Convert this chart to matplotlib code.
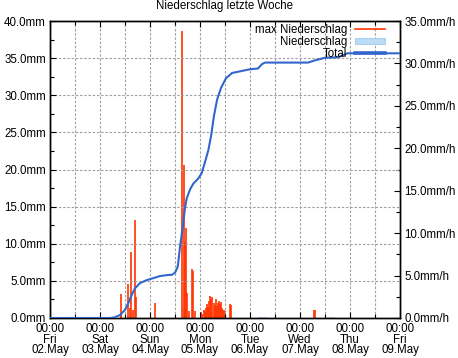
import matplotlib
matplotlib.use("Agg")
import matplotlib.pyplot as plt
from matplotlib.ticker import MultipleLocator, FuncFormatter
from matplotlib.patches import Patch
from matplotlib.lines import Line2D

plt.rcParams['font.family'] = ['Liberation Sans', 'DejaVu Sans']
plt.rcParams['font.size'] = 8.3

# --- data (hours since Fri 02.May 00:00) ---
day_labels = ["00:00\nFri\n02.May", "00:00\nSat\n03.May", "00:00\nSun\n04.May",
              "00:00\nMon\n05.May", "00:00\nTue\n06.May", "00:00\nWed\n07.May",
              "00:00\nThu\n08.May", "00:00\nFri\n09.May"]

total_hours = [0, 28.8, 31.2, 33.6, 36.0, 37.6, 39.2, 40.8, 43.2, 46.4, 48.8, 52.8,
               56.8, 58.4, 60.0, 61.3, 61.9, 62.4, 63.2, 64.0, 64.8, 65.6, 67.2,
               68.8, 71.2, 72.8, 74.4, 76.0, 77.3, 78.7, 80.2, 82.1, 84.5, 87.4,
               96.0, 99.8, 101.8, 103.2, 123.8, 127.2, 132.0, 138.2, 141.6, 142.6,
               168.0]
total_mm = [0, 0, 0.1, 0.4, 1.1, 2.0, 3.1, 4.0, 4.7, 5.1, 5.3, 5.65,
            5.8, 5.8, 6.1, 6.9, 8.3, 9.6, 11.2, 13.0, 14.8, 16.1, 17.3,
            18.1, 18.8, 19.5, 21.0, 22.6, 24.5, 27.2, 29.4, 31.0, 32.3, 33.0,
            33.5, 33.6, 34.2, 34.4, 34.4, 34.7, 35.05, 35.1, 35.5, 35.65,
            35.65]

max_hours = [33.9, 34.3, 37.6, 38.3, 39.1, 39.8, 40.7, 41.4, 50.5,
             63.5, 64.1, 64.6, 65.3, 65.8, 66.7, 68.2, 68.7, 69.4,
             72.5, 73.0, 73.5, 74.0, 74.5, 75.0, 75.5, 76.0, 76.5, 77.0,
             77.5, 78.0, 78.5, 79.0, 79.5, 80.0, 80.5, 81.0, 81.5, 82.0,
             82.5, 83.0, 83.5, 84.0, 86.4, 86.8, 126.5, 127.0]
max_rate = [2.8, 0.6, 4.0, 1.2, 7.8, 1.0, 11.5, 2.5, 1.8,
            33.8, 18.0, 9.0, 10.6, 3.0, 0.8, 5.8, 5.5, 0.8,
            0.7, 0.5, 0.0, 0.9, 0.8, 1.2, 1.6, 1.3, 2.0, 2.6,
            2.2, 2.5, 1.8, 1.5, 2.2, 1.4, 1.8, 2.0, 1.6, 1.9,
            1.2, 0.9, 1.0, 0.8, 1.7, 1.5, 0.9, 0.9]

rain_hours = [0, 37.0, 41.5, 63.3, 65.5, 72.0, 84.5, 100.0, 104.0, 133.0, 137.0, 168]
rain_rate = [0, 0.2, 0, 1.3, 0, 0.2, 0, 0.15, 0, 0.15, 0, 0]

red = '#ff3300'
blue = '#3366cc'
light = '#bcdcf6'

fig = plt.figure(figsize=(4.58, 3.58), dpi=100)
ax = fig.add_axes([50 / 458, 40 / 358, 350 / 458, 297 / 358])
ax2 = ax.twinx()

ax.set_xlim(0, 168)
ax.set_ylim(0, 40)
ax2.set_ylim(0, 35)

ax2.fill_between(rain_hours, rain_rate, step='post', color=light, lw=0)
ax2.vlines(max_hours, 0, max_rate, color=red, lw=1.2)
ax.plot(total_hours, total_mm, color=blue, lw=1.5, zorder=5)
ax.set_zorder(ax2.get_zorder() + 1)
ax.patch.set_visible(False)

ax.set_xticks(range(0, 169, 24))
ax.set_xticklabels(day_labels, linespacing=0.85)
ax.xaxis.set_minor_locator(MultipleLocator(12))
ax.yaxis.set_major_locator(MultipleLocator(5))
ax.yaxis.set_minor_locator(MultipleLocator(2.5))
ax.yaxis.set_major_formatter(FuncFormatter(lambda v, p: f"{v:.1f}mm"))
ax2.yaxis.set_major_locator(MultipleLocator(5))
ax2.yaxis.set_minor_locator(MultipleLocator(2.5))
ax2.yaxis.set_major_formatter(FuncFormatter(lambda v, p: f"{v:.1f}mm/h"))

for a in (ax, ax2):
    a.tick_params(which='both', direction='in', top=True, color='black', pad=3)
    a.tick_params(which='major', length=4.5, width=0.8)
    a.tick_params(which='minor', length=3, width=0.8)
    for s in a.spines.values():
        s.set_linewidth(1.0)
ax.tick_params(which='both', right=False)
ax.tick_params(axis='x', pad=3.5)
ax2.tick_params(which='both', left=False)

ax.grid(True, which='both', axis='x', color='#a0a0a0', lw=0.8, ls=(0, (2.2, 1.6)))
ax.grid(True, which='major', axis='y', color='#a0a0a0', lw=0.8, ls=(0, (2.2, 1.6)))
ax.set_axisbelow(True)

fig.text(225 / 458, 1 - 6 / 358, "Niederschlag letzte Woche", ha='center', va='center')

handles = [Line2D([], [], color=red, lw=1.2),
           Patch(facecolor=light, edgecolor='#9ccbf0', lw=0.6),
           Line2D([], [], color=blue, lw=2.6)]
ax.legend(handles, ["max Niederschlag", "Niederschlag", "Total"], loc='upper right',
          bbox_to_anchor=((385 - 50) / 350, (318 - 24) / 297), frameon=False,
          markerfirst=False, labelspacing=0.0, handlelength=2.6, handleheight=0.5,
          handletextpad=0.7, borderpad=0, borderaxespad=0)

fig.savefig("out.png", dpi=100)
